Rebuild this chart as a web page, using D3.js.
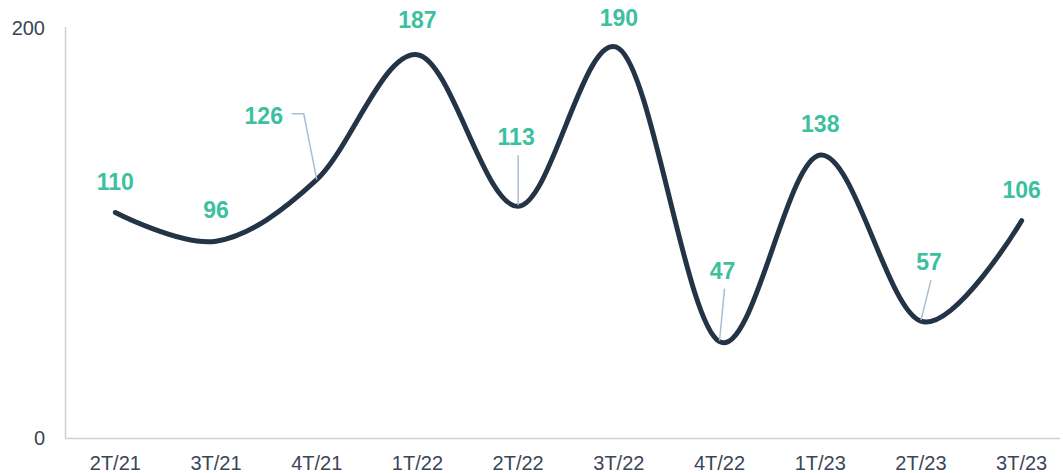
<!DOCTYPE html>
<html><head><meta charset="utf-8">
<script src="https://cdn.jsdelivr.net/npm/d3@7"></script>
<style>body{margin:0;background:#fff}svg{display:block}</style>
</head><body>
<svg id="c" width="1063" height="473"></svg>
<script>
const categories = ["2T/21","3T/21","4T/21","1T/22","2T/22","3T/22","4T/22","1T/23","2T/23","3T/23"];
const values = [110, 96, 126, 187, 113, 190, 47, 138, 57, 106];
const yTicks = [0, 200];
// label layout (dx, dy from the point) and whether a leader line is drawn
const labelDx = [0, 0, -53, 0, -2, 0, 3, 0, 8, 0];
const labelDy = [-31, -31, -64, -35, -69, -31, -71, -31, -59, -31];
const leader  = [false, false, true, false, true, false, true, false, true, false];

const svg = d3.select("#c");
const x = d3.scaleBand().domain(categories).range([65, 1072]);
const y = d3.scaleLinear().domain([0, 200]).range([438, 28]);
const cx = d => x(d) + x.bandwidth() / 2;

// axes lines
svg.append("line").attr("x1", 65.5).attr("x2", 65.5).attr("y1", 27).attr("y2", 438)
  .attr("stroke", "#cfcfcf").attr("stroke-width", 1.5);
svg.append("line").attr("x1", 65).attr("x2", 1060).attr("y1", 438.5).attr("y2", 438.5)
  .attr("stroke", "#cfcfcf").attr("stroke-width", 1.5);

// y tick labels
svg.selectAll(".yt").data(yTicks).enter().append("text")
  .attr("x", 45).attr("y", d => y(d)).attr("dy", "0.35em")
  .attr("text-anchor", "end")
  .attr("font-family", "Liberation Sans, Arial, sans-serif").attr("font-size", 20)
  .attr("fill", "#3a4656").text(d => d);

// x tick labels
svg.selectAll(".xt").data(categories).enter().append("text")
  .attr("x", d => cx(d)).attr("y", 463).attr("dy", "0.35em")
  .attr("text-anchor", "middle")
  .attr("font-family", "Liberation Sans, Arial, sans-serif").attr("font-size", 20)
  .attr("fill", "#3a4656").text(d => d);

// line
const line = d3.line().x((d, i) => cx(categories[i])).y(d => y(d))
  .curve(d3.curveCardinal.tension(0));
svg.append("path").datum(values).attr("d", line)
  .attr("fill", "none").attr("stroke", "#243447").attr("stroke-width", 5)
  .attr("stroke-linejoin", "round").attr("stroke-linecap", "round");

// leader lines
values.forEach((v, i) => {
  if (!leader[i]) return;
  const px = cx(categories[i]), py = y(v);
  const lx = px + labelDx[i], ly = py + labelDy[i];
  let pts;
  if (i === 2) {
    pts = [[lx + 28, ly - 2], [lx + 40, ly - 2], [px, py]];
  } else {
    pts = [[lx + 2, ly + 18], [px, py - 1]];
  }
  svg.append("path").attr("d", d3.line()(pts))
    .attr("fill", "none").attr("stroke", "#a9bdd3").attr("stroke-width", 1.5);
});

// value labels
svg.selectAll(".vl").data(values).enter().append("text")
  .attr("x", (d, i) => cx(categories[i]) + labelDx[i])
  .attr("y", (d, i) => y(d) + labelDy[i]).attr("dy", "0.35em")
  .attr("text-anchor", "middle")
  .attr("font-family", "Liberation Sans, Arial, sans-serif").attr("font-size", 23)
  .attr("font-weight", "bold").attr("fill", "#3cc0a0").text(d => d);
</script>
</body></html>
